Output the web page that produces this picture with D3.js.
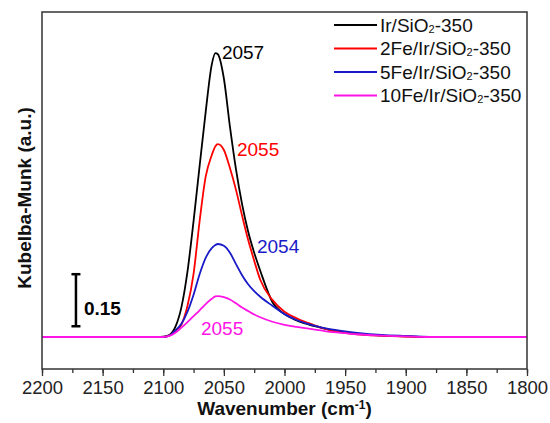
<!DOCTYPE html>
<html><head><meta charset="utf-8">
<script src="https://cdn.jsdelivr.net/npm/d3@7"></script>
<style>body{margin:0;background:#fff}svg{display:block;font-family:Arial,"Liberation Sans",sans-serif}</style>
</head><body><svg id="c" width="550" height="423"></svg>
<script>
const wavenumbers = [2200,2150,2120,2110,2105,2100,2095,2090,2085,2080,2075,2070,2065,2060,2057,2055,2050,2045,2040,2035,2030,2025,2020,2010,2000,1990,1980,1970,1960,1950,1940,1920,1900,1880,1860,1800];
const seriesNames = ["Ir/SiO2-350","2Fe/Ir/SiO2-350","5Fe/Ir/SiO2-350","10Fe/Ir/SiO2-350"];
const seriesColors = ["#000000","#ff0000","#1a1ac8","#ff14e6"];
const irSiO2 = [0,0,0,0,0,0.001,0.006,0.029,0.086,0.189,0.334,0.493,0.649,0.785,0.818,0.815,0.745,0.606,0.483,0.383,0.304,0.243,0.191,0.101,0.066,0.048,0.036,0.027,0.018,0.013,0.009,0.004,0.002,0,0,0];
const fe2 = [0,0,0,0,0,0,0.004,0.018,0.036,0.090,0.182,0.334,0.462,0.524,0.550,0.556,0.539,0.487,0.424,0.350,0.280,0.220,0.165,0.107,0.073,0.054,0.040,0.027,0.018,0.012,0.008,0.004,0.0015,0,0,0];
const fe5 = [0,0,0,0,0,0,0.004,0.019,0.038,0.073,0.122,0.181,0.228,0.256,0.265,0.268,0.263,0.243,0.210,0.178,0.152,0.132,0.116,0.090,0.066,0.049,0.037,0.028,0.021,0.016,0.012,0.006,0.003,0.0006,0,0];
const fe10 = [0,0,0,0,0,0,0.003,0.012,0.027,0.043,0.060,0.077,0.095,0.110,0.117,0.118,0.115,0.108,0.097,0.085,0.075,0.065,0.057,0.044,0.035,0.029,0.024,0.019,0.014,0.011,0.008,0.004,0.002,0,0,0];
const seriesValues = [irSiO2, fe2, fe5, fe10];
const peakLabels = ["2057","2055","2054","2055"];
const peakLabelPos = [[2051.6,0.801],[2039.2,0.522],[2022.7,0.242],[2068.9,0.006]];
const xTicks = [2200,2150,2100,2050,2000,1950,1900,1850,1800];
const scaleBar = {base:0.031, length:0.15, label:"0.15", at:2172};

const svg = d3.select("#c");
const L=42, R=527, T=12, B=369;
const FS = 19;
const x = d3.scaleLinear().domain([2200,1800]).range([L,R]);
const y = d3.scaleLinear().domain([-0.0922,0.9366]).range([B,T]);

// bottom axis
const minor = d3.range(2200,1799,-25);
const gAx = svg.append("g").attr("transform",`translate(0,${B})`);
gAx.call(d3.axisBottom(x).tickValues(minor).tickSize(4).tickFormat(""));
gAx.call(g=>g.selectAll(".tick line").attr("stroke","#333").attr("stroke-width",1.3));
gAx.select(".domain").remove();
const gAx2 = svg.append("g").attr("transform",`translate(0,${B})`);
gAx2.call(d3.axisBottom(x).tickValues(xTicks).tickSize(7).tickFormat(d3.format("d")));
gAx2.select(".domain").remove();
gAx2.selectAll(".tick line").attr("stroke","#333").attr("stroke-width",1.3);
gAx2.selectAll(".tick text").attr("font-size",18.5).attr("fill","#222").attr("y",25).attr("dy",0).attr("font-family","Arial,'Liberation Sans',sans-serif");

// lines
const line = d3.line().x((d,i)=>x(wavenumbers[i])).y(d=>y(d)).curve(d3.curveMonotoneX);
seriesValues.forEach((vals,k)=>{
  svg.append("path").attr("d",line(vals)).attr("fill","none").attr("stroke",seriesColors[k]).attr("stroke-width",1.8);
});

// frame
svg.append("rect").attr("x",L).attr("y",T).attr("width",R-L).attr("height",B-T).attr("fill","none").attr("stroke","#333").attr("stroke-width",1.5);

// peak labels
peakLabels.forEach((t,k)=>{
  svg.append("text").attr("x",x(peakLabelPos[k][0])).attr("y",y(peakLabelPos[k][1])).attr("font-size",FS).attr("fill",seriesColors[k]).text(t);
});

// scale bar
const sbx = x(scaleBar.at);
const y0 = y(scaleBar.base), y1 = y(scaleBar.base+scaleBar.length);
svg.append("line").attr("x1",sbx).attr("x2",sbx).attr("y1",y0).attr("y2",y1).attr("stroke","#000").attr("stroke-width",2.5);
[y0,y1].forEach(v=>svg.append("line").attr("x1",sbx-4.5).attr("x2",sbx+4.5).attr("y1",v).attr("y2",v).attr("stroke","#000").attr("stroke-width",2.5));
svg.append("text").attr("x",sbx+8).attr("y",315).attr("font-size",FS).attr("font-weight","bold").text(scaleBar.label);

// legend
const lg = svg.append("g");
seriesNames.forEach((n,k)=>{
  const yy = 25 + k*23.5;
  lg.append("line").attr("x1",334).attr("x2",377).attr("y1",yy).attr("y2",yy).attr("stroke",seriesColors[k]).attr("stroke-width",1.8);
  const t = lg.append("text").attr("x",380).attr("y",yy+6.5).attr("font-size",FS).attr("fill","#111");
  const parts = n.split("SiO2");
  t.append("tspan").text(parts[0]+"SiO");
  t.append("tspan").attr("font-size",11).attr("dy",1).text("2");
  t.append("tspan").attr("dy",-1).text(parts[1]);
});

// axis titles
svg.append("text").attr("x",(L+R)/2).attr("y",415).attr("text-anchor","middle").attr("font-size",FS).attr("font-weight","bold").attr("fill","#111")
  .call(t=>{t.append("tspan").text("Wavenumber (cm");t.append("tspan").attr("font-size",12).attr("dy",-6).text("-1");t.append("tspan").attr("dy",6).text(")");});
svg.append("text").attr("transform","translate(31,198) rotate(-90)").attr("text-anchor","middle").attr("font-size",FS).attr("font-weight","bold").attr("fill","#111").text("Kubelba-Munk (a.u.)");
</script></body></html>
